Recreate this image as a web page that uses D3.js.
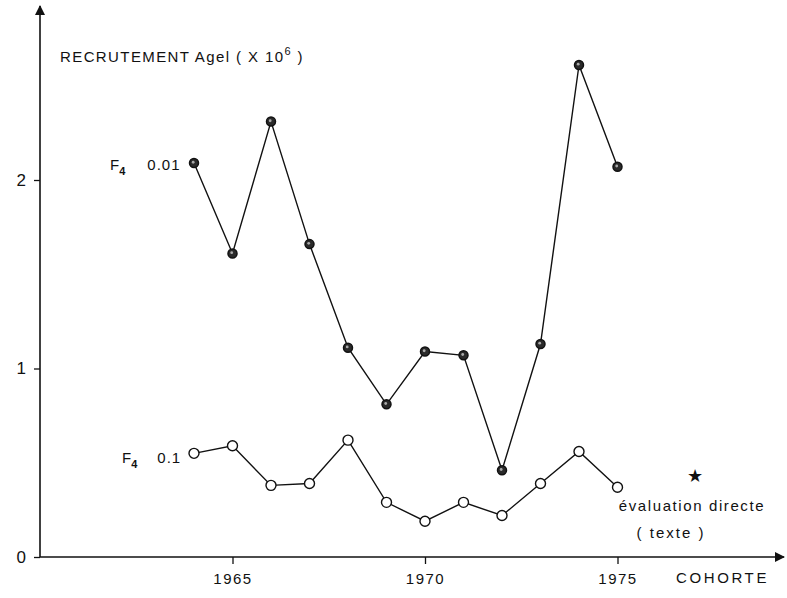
<!DOCTYPE html>
<html>
<head>
<meta charset="utf-8">
<script src="https://cdn.jsdelivr.net/npm/d3@7"></script>
<style>
  body { margin: 0; background: #fff; }
  svg { display: block; font-family: "Liberation Sans", Arial, sans-serif; }
  .axis text { font-size: 15px; fill: #111; }
  .axis line { stroke: #111; stroke-width: 1.3; }
</style>
</head>
<body>
<svg id="chart" width="787" height="598"></svg>
<script>
// cohort years and recruitment (x 10^6) for the two F4 hypotheses
const years = [1964, 1965, 1966, 1967, 1968, 1969, 1970, 1971, 1972, 1973, 1974, 1975];
const recruitF001 = [2.09, 1.61, 2.31, 1.66, 1.11, 0.81, 1.09, 1.07, 0.46, 1.13, 2.61, 2.07];
const recruitF01  = [0.55, 0.59, 0.38, 0.39, 0.62, 0.29, 0.19, 0.29, 0.22, 0.39, 0.56, 0.37];
const directYear = 1977;
const directValue = 0.43;
const xTicks = [1965, 1970, 1975];
const yTicks = [0, 1, 2];

const svg = d3.select('#chart');
const INK = '#111';

const x = d3.scaleLinear().domain([1960, 1980]).range([40, 810]);
const y = d3.scaleLinear().domain([0, 3]).range([557, -8.5]);

// arrow heads
const defs = svg.append('defs');
defs.append('marker').attr('id', 'arrow')
    .attr('viewBox', '0 0 10 10').attr('refX', 9).attr('refY', 5)
    .attr('markerWidth', 10).attr('markerHeight', 10)
    .attr('markerUnits', 'userSpaceOnUse').attr('orient', 'auto')
  .append('path').attr('d', 'M0,0L10,5L0,10Z').attr('fill', INK);

// axes lines with arrows
svg.append('line')
    .attr('x1', x(1960)).attr('x2', 784)
    .attr('y1', y(0)).attr('y2', y(0))
    .attr('stroke', INK).attr('stroke-width', 1.6)
    .attr('marker-end', 'url(#arrow)');
svg.append('line')
    .attr('x1', x(1960)).attr('x2', x(1960))
    .attr('y1', y(0)).attr('y2', 6)
    .attr('stroke', INK).attr('stroke-width', 1.6)
    .attr('marker-end', 'url(#arrow)');

const xAxis = svg.append('g').attr('class', 'axis')
    .attr('transform', `translate(0,${y(0)})`)
    .call(d3.axisBottom(x).tickValues(xTicks).tickFormat(d3.format('d')).tickSize(7).tickPadding(9));
xAxis.select('.domain').remove();
xAxis.selectAll('text').attr('letter-spacing', 1.5);

const yAxis = svg.append('g').attr('class', 'axis')
    .attr('transform', `translate(${x(1960)},0)`)
    .call(d3.axisLeft(y).tickValues(yTicks).tickFormat(d3.format('d')).tickSize(6).tickPadding(8));
yAxis.select('.domain').remove();
yAxis.selectAll('text').style('font-size', '17px');

// axis titles
const title = svg.append('text')
    .attr('x', 60).attr('y', 62)
    .attr('font-size', 15).attr('letter-spacing', 1.4).attr('fill', INK);
title.append('tspan').text('RECRUTEMENT Agel ( X 10');
title.append('tspan').attr('dy', -7).attr('font-size', 11).text('6');
title.append('tspan').attr('dy', 7).text(' )');

svg.append('text')
    .attr('x', 769).attr('y', 583).attr('text-anchor', 'end')
    .attr('font-size', 15).attr('letter-spacing', 2.6).attr('fill', INK)
    .text('COHORTE');

// series
const line = d3.line().x(d => x(d[0])).y(d => y(d[1]));

const dataHigh = years.map((yr, i) => [yr, recruitF001[i]]);
const dataLow  = years.map((yr, i) => [yr, recruitF01[i]]);

svg.append('path').datum(dataHigh)
    .attr('fill', 'none').attr('stroke', INK).attr('stroke-width', 1.4)
    .attr('d', line);
svg.append('path').datum(dataLow)
    .attr('fill', 'none').attr('stroke', INK).attr('stroke-width', 1.4)
    .attr('d', line);

svg.selectAll('.pt-high').data(dataHigh).join('circle')
    .attr('class', 'pt-high')
    .attr('cx', d => x(d[0])).attr('cy', d => y(d[1])).attr('r', 4.5)
    .attr('fill', '#2a2a2a').attr('stroke', INK).attr('stroke-width', 1.5);
svg.selectAll('.pt-high-hl').data(dataHigh).join('circle')
    .attr('class', 'pt-high-hl')
    .attr('cx', d => x(d[0]) - 0.8).attr('cy', d => y(d[1]) - 0.8).attr('r', 1.4)
    .attr('fill', '#aaa');

svg.selectAll('.pt-low').data(dataLow).join('circle')
    .attr('class', 'pt-low')
    .attr('cx', d => x(d[0])).attr('cy', d => y(d[1])).attr('r', 5)
    .attr('fill', '#fff').attr('stroke', INK).attr('stroke-width', 1.4);

// series labels
function seriesLabel(xPos, yPos, val, gap) {
    const g = svg.append('text').attr('x', xPos).attr('y', yPos)
        .attr('font-size', 15).attr('fill', INK);
    g.append('tspan').text('F');
    g.append('tspan').attr('dy', 5).attr('font-size', 11).attr('font-weight', 'bold').text('4');
    g.append('tspan').attr('dy', -5).attr('dx', gap).attr('letter-spacing', 1).text(val);
}
seriesLabel(110, 170, '0.01', 22);
seriesLabel(122, 463, '0.1', 20);

// direct estimate
svg.append('text')
    .attr('x', x(directYear)).attr('y', y(directValue) + 6)
    .attr('text-anchor', 'middle').attr('font-size', 18).attr('fill', INK)
    .text('★');
svg.append('text')
    .attr('x', 692).attr('y', 511).attr('text-anchor', 'middle')
    .attr('font-size', 15).attr('letter-spacing', 1.6).attr('fill', INK)
    .text('évaluation directe');
svg.append('text')
    .attr('x', 671).attr('y', 538).attr('text-anchor', 'middle')
    .attr('font-size', 15).attr('letter-spacing', 2).attr('fill', INK)
    .text('( texte )');
</script>
</body>
</html>
